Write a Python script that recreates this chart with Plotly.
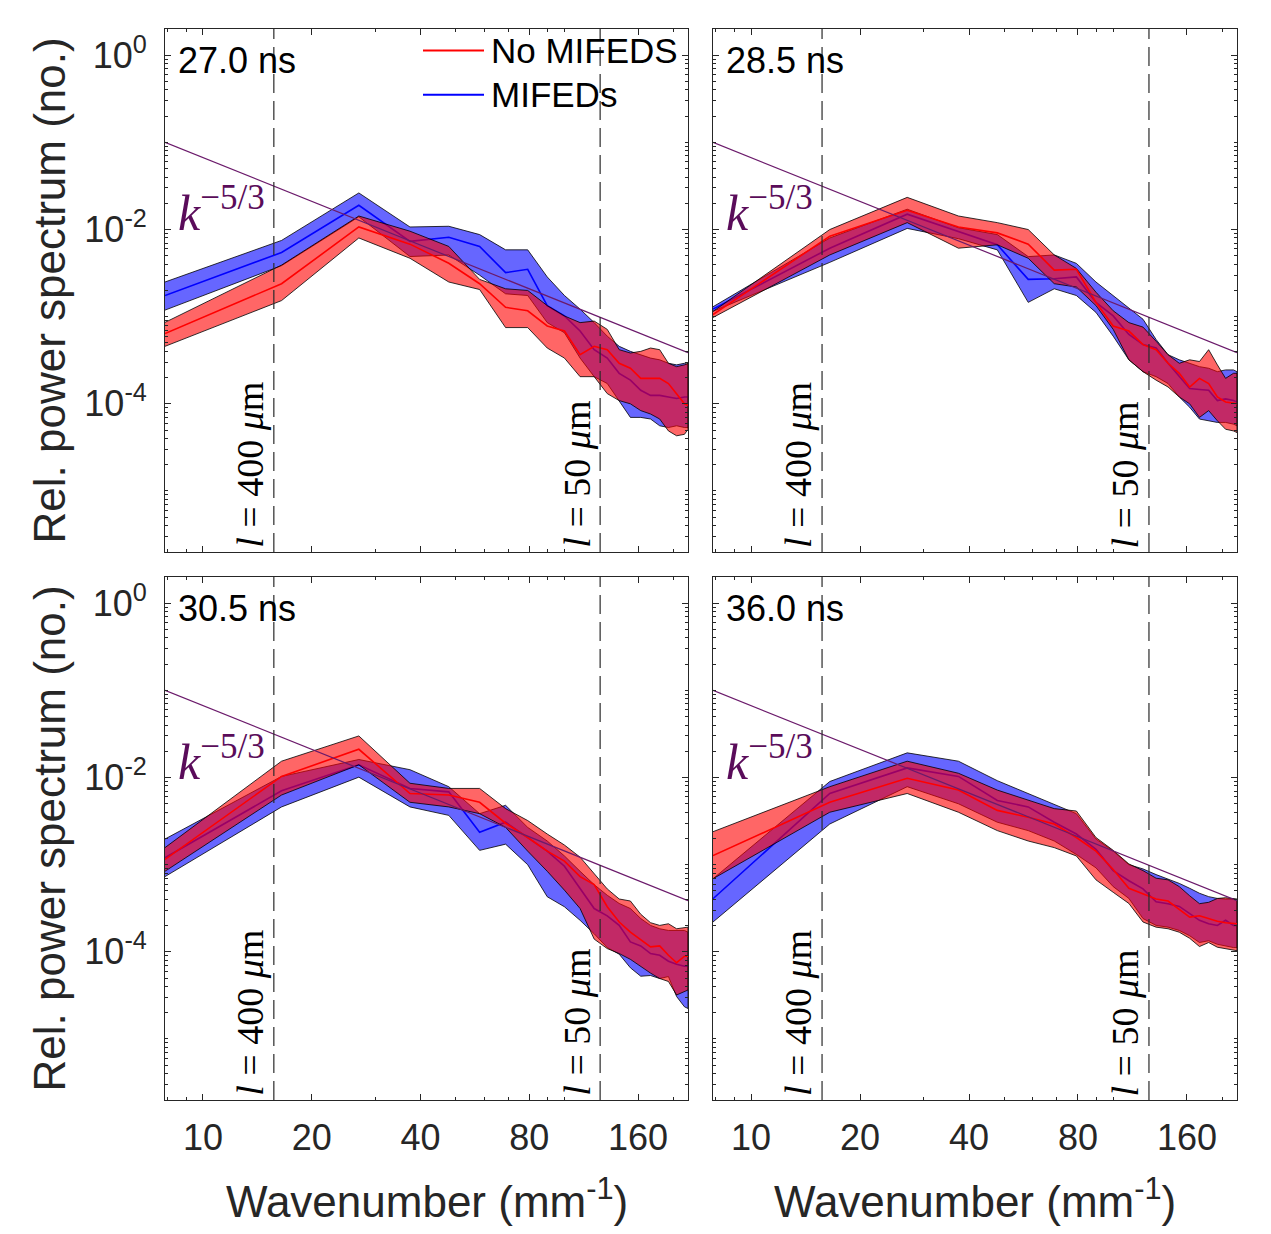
import math
import plotly.graph_objects as go

# The page puts the plot 8 px in from the top-left corner, so the figure is
# 8 px smaller and all pixel positions below are given in window pixels.
OFF = 8
WIN_W, WIN_H = 1271, 1234
W, H = WIN_W - OFF, WIN_H - OFF

# ---------------- data ----------------
wavenumber = [7.85, 16.5, 27.0, 37.4, 47.9, 58.3, 68.8, 79.2, 89.7, 100.1, 110.6,
              121.0, 131.5, 141.9, 152.4, 162.8, 173.3, 183.7, 194.2, 204.6, 215.1, 220.0]

times = ["27.0 ns", "28.5 ns", "30.5 ns", "36.0 ns"]

# 27.0 ns
t27_blue_hi = [2.50e-3, 7.5e-3, 2.63e-2, 1.07e-2, 1.09e-2, 8.75e-3, 5.85e-3, 5.85e-3, 2.86e-3, 1.75e-3, 1.22e-3,
               8.55e-4, 5.98e-4, 4.57e-4, 4.0e-4, 3.66e-4, 3.35e-4, 3.20e-4, 2.92e-4, 2.80e-4, 2.92e-4, 2.80e-4]
t27_blue_mean = [1.75e-3, 5.45e-3, 1.90e-2, 7.31e-3, 8.15e-3, 6.4e-3, 3.2e-3, 3.5e-3, 1.34e-3, 1.02e-3, 6.85e-4,
                 4.18e-4, 3.35e-4, 2.24e-4, 1.87e-4, 1.43e-4, 1.25e-4, 1.25e-4, 1.20e-4, 1.15e-4, 1.20e-4, 1.20e-4]
t27_blue_lo = [1.19e-3, 3.85e-3, 1.40e-2, 4.9e-3, 5.1e-3, 2.99e-3, 1.83e-3, 1.75e-3, 8.55e-4, 6.54e-4, 3.35e-4,
               2.05e-4, 1.71e-4, 1.09e-4, 6.99e-5, 6.99e-5, 6.7e-5, 5.6e-5, 5.35e-5, 5.6e-5, 5.35e-5, 5.35e-5]
t27_red_hi = [8.6e-4, 3.91e-3, 1.43e-2, 9.57e-3, 6.4e-3, 2.68e-3, 2.09e-3, 2.0e-3, 1.34e-3, 1.02e-3, 8.55e-4,
              8.9e-4, 7.15e-4, 4.18e-4, 3.83e-4, 4.0e-4, 4.37e-4, 4.18e-4, 2.92e-4, 2.67e-4, 2.80e-4, 2.92e-4]
t27_red_mean = [6.4e-4, 2.39e-3, 1.07e-2, 6.8e-3, 4.1e-3, 2.39e-3, 1.28e-3, 1.17e-3, 7.82e-4, 6.85e-4, 3.66e-4,
                4.57e-4, 4.18e-4, 2.92e-4, 2.56e-4, 1.96e-4, 1.96e-4, 1.96e-4, 1.71e-4, 1.31e-4, 1.0e-4, 9.6e-5]
t27_red_lo = [4.57e-4, 1.53e-3, 8.0e-3, 4.68e-3, 2.5e-3, 2.05e-3, 7.5e-4, 7.5e-4, 4.37e-4, 3.35e-4, 2.05e-4,
              2.05e-4, 1.31e-4, 1.09e-4, 1.0e-4, 8.36e-5, 7.64e-5, 6.7e-5, 4.89e-5, 4.3e-5, 4.47e-5, 5.1e-5]

# 28.5 ns
t285_blue_hi = [1.30e-3, 8.0e-3, 1.71e-2, 1.05e-2, 8.75e-3, 4.89e-3, 5.11e-3, 4.09e-3, 2.50e-3, 1.75e-3, 1.28e-3,
                9.35e-4, 5.47e-4, 3.66e-4, 3.20e-4, 2.92e-4, 2.67e-4, 2.56e-4, 2.34e-4, 2.45e-4, 2.45e-4, 2.34e-4]
t285_blue_mean = [1.22e-3, 6.11e-3, 1.50e-2, 9.4e-3, 6.68e-3, 2.68e-3, 2.73e-3, 2.86e-3, 1.46e-3, 1.02e-3, 6.25e-4,
                  4.78e-4, 4.37e-4, 2.92e-4, 2.05e-4, 1.50e-4, 1.46e-4, 1.43e-4, 1.09e-4, 1.14e-4, 1.09e-4, 1.05e-4]
t285_blue_lo = [1.15e-3, 4.2e-3, 1.03e-2, 7.85e-3, 5.84e-3, 1.46e-3, 2.09e-3, 1.75e-3, 1.12e-3, 5.98e-4, 3.20e-4,
                2.34e-4, 2.05e-4, 1.71e-4, 1.20e-4, 9.14e-5, 6.69e-5, 6.39e-5, 6.12e-5, 6.12e-5, 5.85e-5, 5.59e-5]
t285_red_hi = [1.15e-3, 1.00e-2, 2.34e-2, 1.43e-2, 1.20e-2, 1.00e-2, 5.11e-3, 3.58e-3, 1.91e-3, 1.17e-3, 8.55e-4,
               7.6e-4, 5.23e-4, 3.66e-4, 2.92e-4, 3.20e-4, 3.06e-4, 4.18e-4, 2.80e-4, 1.96e-4, 2.24e-4, 2.24e-4]
t285_red_mean = [1.06e-3, 8.36e-3, 1.66e-2, 1.07e-2, 9.15e-3, 6.8e-3, 3.42e-3, 3.5e-3, 1.46e-3, 7.82e-4, 6.84e-4,
                 4.78e-4, 4.18e-4, 2.92e-4, 2.24e-4, 1.56e-4, 1.96e-4, 1.71e-4, 1.20e-4, 1.05e-4, 1.02e-4, 1.0e-4]
t285_red_lo = [9.78e-4, 5.11e-3, 1.20e-2, 6.11e-3, 6.68e-3, 4.68e-3, 2.39e-3, 2.19e-3, 1.34e-3, 7.15e-4, 3.20e-4,
               2.34e-4, 1.87e-4, 1.56e-4, 1.20e-4, 1.0e-4, 6.99e-5, 8.36e-5, 6.39e-5, 5.11e-5, 4.89e-5, 4.68e-5]

# 30.5 ns
t305_blue_hi = [1.97e-3, 1.03e-2, 1.61e-2, 1.23e-2, 7.85e-3, 3.85e-3, 4.8e-3, 2.68e-3, 1.87e-3, 1.26e-3, 8.4e-4,
                5.9e-4, 4.46e-4, 3.59e-4, 3.14e-4, 2.41e-4, 2.01e-4, 1.84e-4, 1.76e-4, 1.76e-4, 1.76e-4, 1.68e-4]
t305_blue_mean = [1.20e-3, 7.04e-3, 1.40e-2, 7.5e-3, 6.85e-3, 2.35e-3, 3.07e-3, 2.05e-3, 1.43e-3, 9.6e-4, 5.36e-4,
                  3.14e-4, 2.59e-4, 2.01e-4, 1.30e-4, 1.17e-4, 9.56e-5, 9.14e-5, 7.8e-5, 7.2e-5, 6.85e-5, 6.85e-5]
t305_blue_lo = [7.3e-4, 4.6e-3, 1.01e-2, 4.6e-3, 3.68e-3, 1.46e-3, 1.72e-3, 1.0e-3, 4.29e-4, 3.29e-4, 2.30e-4,
                1.61e-4, 1.12e-4, 9.4e-5, 6.56e-5, 5.25e-5, 5.35e-5, 4.94e-5, 5.2e-5, 3.07e-5, 2.34e-5, 2.24e-5]
t305_red_hi = [1.57e-3, 1.54e-2, 3.00e-2, 8.6e-3, 7.5e-3, 7.5e-3, 4.4e-3, 3.21e-3, 2.25e-3, 1.68e-3, 1.22e-3,
               7.82e-4, 5.27e-4, 4.04e-4, 3.83e-4, 2.70e-4, 2.16e-4, 2.01e-4, 2.10e-4, 1.84e-4, 1.92e-4, 1.92e-4]
t305_red_mean = [1.15e-3, 1.03e-2, 2.11e-2, 6.56e-3, 6.3e-3, 5.2e-3, 2.99e-3, 2.05e-3, 1.43e-3, 1.10e-3, 7.3e-4,
                 5.9e-4, 3.29e-4, 2.20e-4, 1.68e-4, 1.38e-4, 1.14e-4, 1.17e-4, 9.14e-5, 7.5e-5, 8.9e-5, 8.9e-5]
t305_red_lo = [8.4e-4, 6.3e-3, 1.40e-2, 5.2e-3, 4.6e-3, 3.85e-3, 2.68e-3, 1.43e-3, 8.4e-4, 5.1e-4, 3.14e-4,
               1.40e-4, 1.09e-4, 9.56e-5, 8.2e-5, 6.85e-5, 5.7e-5, 4.94e-5, 4.57e-5, 3.2e-5, 3.5e-5, 3.65e-5]

# 36.0 ns
t36_blue_hi = [6.9e-4, 9.0e-3, 1.92e-2, 1.54e-2, 9.2e-3, 6.56e-3, 5.0e-3, 3.85e-3, 1.97e-3, 1.43e-3, 1.0e-3,
               8.94e-4, 7.7e-4, 6.9e-4, 6.1e-4, 5.36e-4, 4.7e-4, 4.3e-4, 4.1e-4, 4.04e-4, 4.04e-4, 3.9e-4]
t36_blue_mean = [4.07e-4, 6.56e-3, 1.29e-2, 1.03e-2, 5.45e-3, 4.6e-3, 3.07e-3, 2.25e-3, 1.5e-3, 8.55e-4, 6.54e-4,
                 5.27e-4, 3.76e-4, 3.57e-4, 3.32e-4, 2.72e-4, 2.30e-4, 2.10e-4, 2.01e-4, 2.30e-4, 2.01e-4, 2.01e-4]
t36_blue_lo = [2.2e-4, 2.93e-3, 7.85e-3, 5.0e-3, 3.07e-3, 2.46e-3, 1.87e-3, 1.31e-3, 9.2e-4, 5.6e-4, 4.1e-4,
               2.41e-4, 2.01e-4, 1.92e-4, 1.76e-4, 1.53e-4, 1.28e-4, 1.34e-4, 1.22e-4, 1.17e-4, 1.12e-4, 1.12e-4]
t36_red_hi = [2.39e-3, 7.85e-3, 1.54e-2, 1.12e-2, 7.18e-3, 5.45e-3, 4.4e-3, 4.13e-3, 2.05e-3, 1.46e-3, 1.02e-3,
              8.55e-4, 7.0e-4, 6.7e-4, 5.6e-4, 4.4e-4, 3.57e-4, 3.7e-4, 4.1e-4, 4.18e-4, 4.04e-4, 4.04e-4]
t36_red_mean = [1.27e-3, 5.2e-3, 9.8e-3, 7.18e-3, 4.2e-3, 3.5e-3, 2.93e-3, 2.05e-3, 1.43e-3, 8.8e-4, 5.36e-4,
                4.64e-4, 4.04e-4, 3.83e-4, 3.06e-4, 2.5e-4, 2.59e-4, 2.41e-4, 2.24e-4, 2.16e-4, 2.1e-4, 2.1e-4]
t36_red_lo = [6.9e-4, 4.0e-3, 6.56e-3, 4.0e-3, 2.46e-3, 1.87e-3, 1.57e-3, 1.26e-3, 6.7e-4, 4.82e-4, 3.59e-4,
              2.20e-4, 1.92e-4, 1.84e-4, 1.68e-4, 1.43e-4, 1.15e-4, 1.28e-4, 1.13e-4, 1.09e-4, 1.05e-4, 1.03e-4]

# k^-5/3 reference line (end points) and the two reference length scales (mm)
k_ref = [7.85, 220.0]
kolmogorov_ref = [0.1, 3.87e-4]
ref_lengths_mm = [0.4, 0.05]
ref_labels = ["400", "50"]

x_ticks = [10, 20, 40, 80, 160]
y_ticks = [1e-4, 1e-2, 1]
y_ticktext = ["10<sup>-4</sup>", "10<sup>-2</sup>", "10<sup>0</sup>"]

panels_data = [
    (t27_red_lo, t27_red_mean, t27_red_hi, t27_blue_lo, t27_blue_mean, t27_blue_hi),
    (t285_red_lo, t285_red_mean, t285_red_hi, t285_blue_lo, t285_blue_mean, t285_blue_hi),
    (t305_red_lo, t305_red_mean, t305_red_hi, t305_blue_lo, t305_blue_mean, t305_blue_hi),
    (t36_red_lo, t36_red_mean, t36_red_hi, t36_blue_lo, t36_blue_mean, t36_blue_hi),
]

# ---------------- layout geometry (window pixels) ----------------
# left, right, top, bottom
boxes = [(165, 688, 29, 552), (713, 1237, 29, 552), (165, 688, 577, 1100), (713, 1237, 577, 1100)]

SANS = "Liberation Sans, Arial, Helvetica, sans-serif"
SERIF = "Liberation Serif, Times New Roman, serif"
AX = "#262626"
RED_FILL = "rgba(255,0,0,0.6)"
BLUE_FILL = "rgba(0,0,255,0.6)"
PURPLE = "#6b1a6b"


def px(x):
    return (x - OFF) / W


def py(y):
    return 1 - (y - OFF) / H


fig = go.Figure()

minor_x = [8, 9, 30, 50, 60, 70, 90, 100, 200]
minor_y = [m * 10.0 ** e for e in range(-6, 1) for m in range(1, 10)
           if not (m == 1 and e in (-4, -2, 0))]

annotations = []
shapes = []
layout_axes = {}

for i, (box, dat) in enumerate(zip(boxes, panels_data)):
    n = "" if i == 0 else str(i + 1)
    xr, yr = "x" + n, "y" + n
    rlo, rmean, rhi, blo, bmean, bhi = dat
    common = dict(xaxis=xr, yaxis=yr, showlegend=False, hoverinfo="skip")
    # MIFEDs (blue) band + line
    fig.add_trace(go.Scatter(x=wavenumber + wavenumber[::-1], y=bhi + blo[::-1], mode="lines",
                             fill="toself", fillcolor=BLUE_FILL,
                             line=dict(color="black", width=0.8), **common))
    fig.add_trace(go.Scatter(x=wavenumber, y=bmean, mode="lines", name="MIFEDs",
                             line=dict(color="#0000ff", width=1.6), **common))
    # No MIFEDS (red) band + line
    fig.add_trace(go.Scatter(x=wavenumber + wavenumber[::-1], y=rhi + rlo[::-1], mode="lines",
                             fill="toself", fillcolor=RED_FILL,
                             line=dict(color="black", width=0.8), **common))
    fig.add_trace(go.Scatter(x=wavenumber, y=rmean, mode="lines", name="No MIFEDS",
                             line=dict(color="#ff0000", width=1.6), **common))
    # k^-5/3 reference
    fig.add_trace(go.Scatter(x=k_ref, y=kolmogorov_ref, mode="lines",
                             line=dict(color=PURPLE, width=1.2), **common))

    L, R, T, B = box
    bottom_row = i >= 2
    left_col = i % 2 == 0
    layout_axes["xaxis" + n] = dict(
        type="log", range=[math.log10(7.85), math.log10(220.0)], domain=[px(L), px(R)],
        anchor=yr, tickvals=x_ticks, ticktext=[str(v) for v in x_ticks],
        showticklabels=bottom_row, ticks="inside", ticklen=6, tickwidth=1, tickcolor=AX,
        showline=True, linecolor=AX, linewidth=1, mirror="ticks", showgrid=False, zeroline=False,
        minor=dict(tickmode="array", tickvals=minor_x, ticks="inside", ticklen=3, tickcolor=AX, showgrid=False),
        tickfont=dict(family=SANS, size=36, color=AX), ticklabelstandoff=6,
    )
    layout_axes["yaxis" + n] = dict(
        type="log", range=[-5.70, 0.301], domain=[py(B), py(T)], anchor=xr,
        tickvals=y_ticks, ticktext=y_ticktext, showticklabels=left_col,
        ticks="inside", ticklen=6, tickwidth=1, tickcolor=AX,
        showline=True, linecolor=AX, linewidth=1, mirror="ticks", showgrid=False, zeroline=False,
        minor=dict(tickmode="array", tickvals=minor_y, ticks="inside", ticklen=3, tickcolor=AX, showgrid=False),
        tickfont=dict(family=SANS, size=36, color=AX), ticklabelstandoff=10,
    )

    # dashed reference length lines + labels
    for lmm, lab in zip(ref_lengths_mm, ref_labels):
        kk = 2 * math.pi / lmm
        shapes.append(dict(type="line", xref=xr, yref=yr + " domain", x0=kk, x1=kk, y0=0, y1=1,
                           line=dict(color="#2a2a2a", width=1.2, dash="19px,8px"), layer="above"))
        annotations.append(dict(x=math.log10(kk), xref=xr, y=0, yref=yr + " domain",
                                xanchor="right", yanchor="bottom", xshift=-1, yshift=2,
                                textangle=-90, showarrow=False,
                                text="<i>l</i> = " + lab + " <i>μ</i>m",
                                font=dict(family=SERIF, size=38, color="black")))

    # time label
    annotations.append(dict(x=px(L + 11), y=py(T + 31), xref="paper", yref="paper",
                            xanchor="left", yanchor="middle", showarrow=False, text=times[i],
                            font=dict(family=SANS, size=36, color="black")))
    # k^-5/3 label
    annotations.append(dict(x=px(L + 11), y=py(T + 181), xref="paper", yref="paper",
                            xanchor="left", yanchor="middle", showarrow=False,
                            text="<i>k</i><sup>−5/3</sup>",
                            font=dict(family=SERIF, size=50, color="#5a0c5a")))

    # axis titles
    if bottom_row:
        annotations.append(dict(x=px((L + R) / 2), y=py(1198), xref="paper", yref="paper",
                                xanchor="center", yanchor="middle", showarrow=False,
                                text="Wavenumber (mm<sup>-1</sup>)",
                                font=dict(family=SANS, size=44, color=AX)))
    if left_col:
        annotations.append(dict(x=px(49), y=py((T + B) / 2), xref="paper", yref="paper",
                                xanchor="center", yanchor="middle", showarrow=False, textangle=-90,
                                text="Rel. power spectrum (no.)",
                                font=dict(family=SANS, size=44, color=AX)))

# manual legend in first panel
legend_items = [("No MIFEDS", "#ff0000", 50.5), ("MIFEDs", "#0000ff", 94.7)]
for label, col, yy in legend_items:
    shapes.append(dict(type="line", xref="paper", yref="paper", x0=px(423), x1=px(484),
                       y0=py(yy), y1=py(yy), line=dict(color=col, width=2)))
    annotations.append(dict(x=px(489), y=py(yy), xref="paper", yref="paper", xanchor="left",
                            yanchor="middle", showarrow=False, text=label,
                            font=dict(family=SANS, size=35, color="black")))

fig.update_layout(
    width=W, height=H, autosize=False,
    margin=dict(l=0, r=0, t=0, b=0),
    paper_bgcolor="white", plot_bgcolor="white",
    showlegend=False,
    annotations=annotations, shapes=shapes,
    **layout_axes,
)

fig.write_html("out.html")
